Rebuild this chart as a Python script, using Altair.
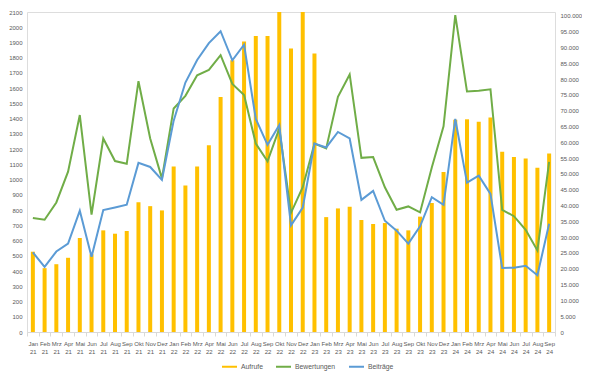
import altair as alt
import pandas as pd

months = ["Jan", "Feb", "Mrz", "Apr", "Mai", "Jun", "Jul", "Aug", "Sep", "Okt", "Nov", "Dez"]
years = ["21", "22", "23", "24"]
labels = [f"{m} {y}" for y in years for m in months][:45]

aufrufe = [25400, 20200, 21450, 23480, 29750, 24590, 32160, 31100, 31960, 41080, 39820, 38470,
           52400, 46330, 52400, 59110, 74390, 85960, 91890, 93670, 93670, 105000, 89720, 108000,
           88130, 36350, 39100, 39630, 35430, 34180, 34470, 32690, 32160, 36500, 40790, 50620,
           67160, 67300, 66530, 67880, 57030, 55350, 54910, 51970, 56500]
bewertungen = [748, 737, 850, 1052, 1424, 770, 1270, 1122, 1104, 1646, 1270, 1008,
               1467, 1550, 1685, 1720, 1817, 1628, 1555, 1237, 1120, 1335, 782, 950,
               1237, 1205, 1543, 1690, 1143, 1148, 950, 802, 824, 785, 1080, 1350,
               2080, 1578, 1583, 1593, 802, 760, 671, 535, 1117]
beitraege = [522, 428, 528, 580, 796, 493, 800, 817, 835, 1110, 1083, 998,
             1387, 1637, 1785, 1896, 1974, 1783, 1885, 1398, 1228, 1358, 700, 817,
             1237, 1211, 1313, 1270, 867, 926, 730, 665, 580, 693, 885, 835,
             1398, 980, 1026, 906, 420, 422, 435, 372, 710]

series_names = ["Aufrufe", "Bewertungen", "Beiträge"]
colors = ["#FFC000", "#70AD47", "#5B9BD5"]

bars_df = pd.DataFrame({"Monat": labels, "Wert": aufrufe, "Serie": "Aufrufe"})
lines_df = pd.concat([
    pd.DataFrame({"Monat": labels, "Wert": bewertungen, "Serie": "Bewertungen"}),
    pd.DataFrame({"Monat": labels, "Wert": beitraege, "Serie": "Beiträge"}),
])

FONT = "Liberation Sans"
GREY = "#595959"
FS = 6

x_enc = alt.X("Monat:N", sort=labels, title=None,
              scale=alt.Scale(paddingInner=0, paddingOuter=0),
              axis=alt.Axis(labelAngle=0, labelExpr="split(datum.label, ' ')",
                            labelFontSize=FS, labelColor=GREY, labelFont=FONT,
                            labelPadding=4, labelLineHeight=8,
                            domainColor="#d9d9d9", tickColor="#d9d9d9",
                            tickBand="extent", tickSize=4, grid=False))

color_scale = alt.Scale(domain=series_names, range=colors)

legend_kwargs = dict(orient="none", legendX=194, legendY=346, direction="horizontal",
                     title=None, symbolType="stroke", symbolSize=225, symbolStrokeWidth=2,
                     labelFontSize=6.8, labelColor=GREY, labelFont=FONT,
                     columnPadding=9, labelOffset=3)

def build(with_encode):
    lk = dict(legend_kwargs)
    if with_encode:
        lk["encode"] = {"symbols": {"update": {"strokeWidth": {
            "signal": "datum.value === 'Aufrufe' ? 5 : 2"}}}}
    leg = alt.Legend(**lk)
    bars = alt.Chart(bars_df).mark_bar(size=4, clip=True).encode(
        x=x_enc,
        y=alt.Y("Wert:Q", title=None,
                scale=alt.Scale(domain=[0, 101250], nice=False),
                axis=alt.Axis(orient="right", values=list(range(0, 100001, 5000)),
                              labelExpr="replace(format(datum.value, ','), ',', '.')",
                              labelFontSize=FS, labelColor=GREY, labelFont=FONT,
                              labelAlign="left", labelPadding=5,
                              domain=False, ticks=False, grid=False)),
        color=alt.Color("Serie:N", scale=color_scale, sort=series_names, legend=leg),
    )
    lines = alt.Chart(lines_df).mark_line(strokeWidth=2).encode(
        x=x_enc,
        y=alt.Y("Wert:Q", title=None,
                scale=alt.Scale(domain=[0, 2100], nice=False),
                axis=alt.Axis(orient="left", values=list(range(0, 2101, 100)),
                              format="d",
                              labelFontSize=FS, labelColor=GREY, labelFont=FONT,
                              labelPadding=5, domain=False, ticks=False,
                              gridColor="#d9d9d9", gridWidth=1)),
        color=alt.Color("Serie:N", scale=color_scale, sort=series_names, legend=leg),
    )
    return alt.layer(bars, lines).resolve_scale(y="independent").properties(
        width=528, height=320,
        autosize=alt.AutoSizeParams(type="none"),
        padding={"left": 19, "top": 4, "right": 27, "bottom": 40},
    ).configure_view(stroke=None).configure(background="white")

try:
    chart = build(True)
    chart.save("out.html", embed_options={"renderer": "svg", "actions": False})
except Exception:
    chart = build(False)
    chart.save("out.html", embed_options={"renderer": "svg", "actions": False})
